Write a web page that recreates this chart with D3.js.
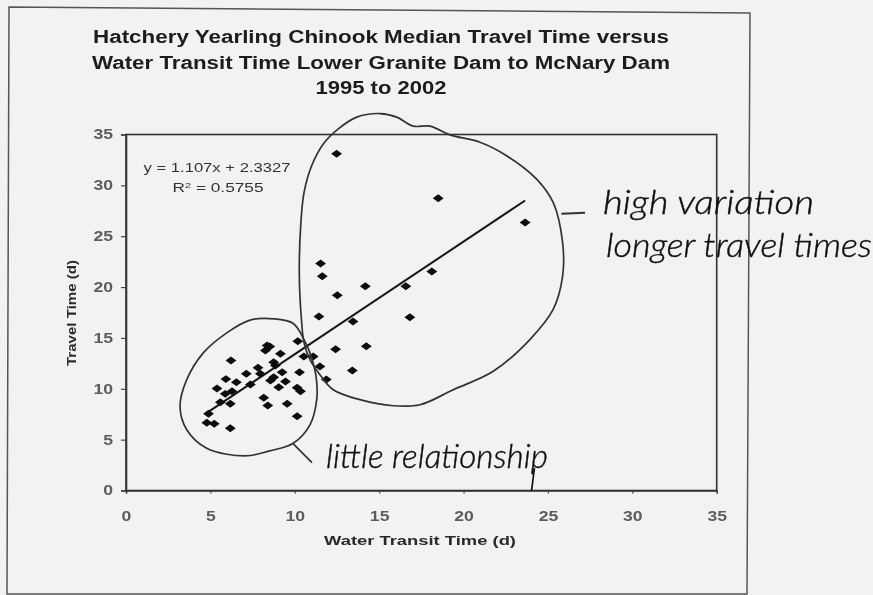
<!DOCTYPE html>
<html><head><meta charset="utf-8">
<script src="https://cdn.jsdelivr.net/npm/d3@7"></script>
<style>
html,body{margin:0;padding:0;background:#f2f2f1;}
svg{display:block;}
text{font-family:"Liberation Sans",Arial,sans-serif;}
.hand{font-family:"Lato","Open Sans",sans-serif;font-style:italic;font-weight:300;fill:#111;stroke:#111;stroke-width:0.4;}
</style></head><body>
<svg id="c" width="873" height="595"></svg>
<script>
const titleLines = ["Hatchery Yearling Chinook Median Travel Time versus","Water Transit Time Lower Granite Dam to McNary Dam","1995 to 2002"];
const titleWidths = [576,578,131];
const xLabel = "Water Transit Time (d)";
const yLabel = "Travel Time (d)";
const xTicks = [0,5,10,15,20,25,30,35];
const yTicks = [0,5,10,15,20,25,30,35];
const transitTime = [12.48,18.5,23.65,11.53,11.63,14.18,12.52,18.12,16.58,11.43,16.82,13.45,14.24,13.41,12.42,11.87,11.49,11.09,10.54,10.18,10.28,10.14,10.34,10.14,9.15,9.25,9.45,9.55,9.05,8.36,8.52,8.26,8.75,8.85,8.75,8.56,8.16,8.4,7.82,7.96,7.13,7.37,6.22,6.54,6.28,6.18,6.18,5.92,5.88,5.59,5.39,5.23,4.89,4.79];
const travelTime  = [33.1,28.74,26.35,22.32,21.07,20.09,19.2,21.53,20.09,17.1,17.04,16.62,14.19,11.8,13.88,10.91,12.19,13.18,13.18,14.68,11.63,10.1,9.76,7.31,13.44,11.63,10.72,8.52,10.16,14.26,14.16,13.77,12.62,12.29,11.14,10.82,9.11,8.36,12.06,11.47,11.47,10.42,12.78,10.65,9.76,8.52,6.13,10.95,9.5,8.68,10.03,6.56,7.54,6.66];
const slope = 1.107, intercept = 2.3327;
const equation = ["y = 1.107x + 2.3327","R","2"," = 0.5755"];
const bigLoopX = [10.41,10.27,10.35,10.55,11.0,11.69,12.58,13.67,15.05,16.04,17.02,18.01,19.19,20.97,22.55,24.33,25.31,25.87,25.87,25.31,23.93,21.76,19.39,17.42,15.84,13.86,12.28,11.49,10.9,10.55];
const bigLoopY = [16.49,21.08,26.02,29.31,31.93,34.07,35.55,36.71,37.06,36.71,35.82,35.82,34.96,34.24,32.92,30.62,28.32,24.38,21.08,17.8,14.84,11.72,9.91,8.43,8.33,8.93,9.91,11.39,12.87,14.52];
const smallLoopX = [10.6,9.91,8.73,7.35,5.97,4.58,3.6,3.2,3.6,4.78,7.05,8.53,9.91,10.9,11.3,11.26,10.9];
const smallLoopY = [14.67,16.42,16.88,16.75,15.5,13.53,10.9,8.26,5.97,4.16,3.4,3.9,4.65,6.46,8.93,11.22,13.53];
const noteLittle = "little relationship";
const noteHigh = ["high variation","longer travel times"];

const svg = d3.select("#c");
const defs = svg.append("defs");
defs.append("filter").attr("id","scan").attr("x",0).attr("y",0).attr("width",1).attr("height",1)
  .append("feGaussianBlur").attr("stdDeviation",0.55);
const root = svg.append("g").attr("filter","url(#scan)");
root.append("rect").attr("width",873).attr("height",595).attr("fill","#f2f2f1");

const x = d3.scaleLinear().domain([0,35]).range([126,716.7]);
const y = d3.scaleLinear().domain([0,35]).range([490.5,134.5]);

// sheet frame
root.append("path").attr("d","M9,7 L750,13 L747,594 L7,594 Z").attr("fill","none").attr("stroke","#555").attr("stroke-width",1.5);

// title
root.append("g").selectAll("text").data(titleLines).join("text")
  .attr("x",381).attr("y",(d,i)=>43+i*25.5).attr("text-anchor","middle")
  .attr("font-size",17.5).attr("font-weight","bold").attr("fill","#1c1c1c")
  .attr("textLength",(d,i)=>titleWidths[i]).attr("lengthAdjust","spacingAndGlyphs").text(d=>d);

// plot box
root.append("rect").attr("x",x(0)).attr("y",y(35)).attr("width",x(35)-x(0)).attr("height",y(0)-y(35))
  .attr("fill","none").attr("stroke","#333").attr("stroke-width",1.6);

// axes
const ax = root.append("g").attr("transform",`translate(0,${y(0)})`)
  .call(d3.axisBottom(x).tickValues(xTicks).tickSize(3).tickPadding(18));
const ay = root.append("g").attr("transform",`translate(${x(0)},0)`)
  .call(d3.axisLeft(y).tickValues(yTicks).tickSize(5).tickPadding(8));
[ax,ay].forEach(g=>{
  g.select(".domain").attr("stroke","#333").attr("stroke-width",1.6);
  g.selectAll(".tick line").attr("stroke","#444").attr("stroke-width",1.2);
  g.selectAll(".tick text").attr("font-size",14).attr("fill","#444").attr("font-family","Liberation Sans").attr("font-weight","bold").attr("opacity",0.85)
    .attr("textLength",d=>String(d).length*9.8).attr("lengthAdjust","spacingAndGlyphs");
});

root.append("text").attr("x",420).attr("y",545).attr("text-anchor","middle")
  .attr("font-size",12.5).attr("font-weight","bold").attr("fill","#2a2a2a")
  .attr("textLength",192).attr("lengthAdjust","spacingAndGlyphs").text(xLabel);
root.append("text").attr("transform","translate(76,313) rotate(-90)").attr("text-anchor","middle")
  .attr("font-size",12).attr("font-weight","bold").attr("fill","#2a2a2a")
  .attr("textLength",106).attr("lengthAdjust","spacingAndGlyphs").text(yLabel);

// equation
root.append("text").attr("x",217).attr("y",171.5).attr("text-anchor","middle")
  .attr("font-size",12.5).attr("fill","#333")
  .attr("textLength",147).attr("lengthAdjust","spacingAndGlyphs").text(equation[0]);
const r2 = root.append("text").attr("transform","translate(218,192) scale(1.38,1)").attr("text-anchor","middle")
  .attr("font-size",12.5).attr("fill","#333");
r2.append("tspan").text(equation[1]);
r2.append("tspan").attr("dy",-4).attr("font-size",8).text(equation[2]);
r2.append("tspan").attr("dy",4).text(equation[3]);

// trend line
const xr = d3.extent(transitTime);
root.append("line").attr("x1",x(xr[0])).attr("y1",y(slope*xr[0]+intercept))
  .attr("x2",x(xr[1])).attr("y2",y(slope*xr[1]+intercept))
  .attr("stroke","#151515").attr("stroke-width",2);

// points
const diamond = d3.symbol().type(d3.symbolDiamond2).size(48);
root.append("g").selectAll("path").data(transitTime).join("path")
  .attr("d",diamond)
  .attr("transform",(d,i)=>`translate(${x(d)},${y(travelTime[i])}) scale(1.25,0.92)`)
  .attr("fill","#0d0d0d");

// hand annotations
const loop = d3.line().x(d=>x(d[0])).y(d=>y(d[1])).curve(d3.curveCatmullRomClosed.alpha(0.5));
const hand = root.append("g").attr("fill","none").attr("stroke","#333").attr("stroke-width",1.7);
hand.append("path").attr("d",loop(d3.zip(bigLoopX,bigLoopY)));
hand.append("path").attr("d",loop(d3.zip(smallLoopX,smallLoopY)));
const leaderX = [9.9,11.02], leaderY = [4.6,2.74];
hand.append("line").attr("x1",x(leaderX[0])).attr("y1",y(leaderY[0])).attr("x2",x(leaderX[1])).attr("y2",y(leaderY[1]));
const dashX = [25.8,27.2], dashY = [27.2,27.3];
hand.append("line").attr("x1",x(dashX[0])).attr("y1",y(dashY[0])).attr("x2",x(dashX[1])).attr("y2",y(dashY[1])).attr("stroke-width",2);
const tailX = [24.2,24.03], tailY = [2.2,0];
hand.append("line").attr("x1",x(tailX[0])).attr("y1",y(tailY[0])).attr("x2",x(tailX[1])).attr("y2",y(tailY[1])).attr("stroke","#111");

root.append("text").attr("class","hand").attr("x",326).attr("y",468).attr("font-size",33)
  .attr("textLength",222).attr("lengthAdjust","spacingAndGlyphs").text(noteLittle);
root.append("text").attr("class","hand").attr("x",603).attr("y",214).attr("font-size",33)
  .attr("textLength",211).attr("lengthAdjust","spacingAndGlyphs").text(noteHigh[0]);
root.append("text").attr("class","hand").attr("x",606).attr("y",257).attr("font-size",33)
  .attr("textLength",266).attr("lengthAdjust","spacingAndGlyphs").text(noteHigh[1]);
</script>
</body></html>
